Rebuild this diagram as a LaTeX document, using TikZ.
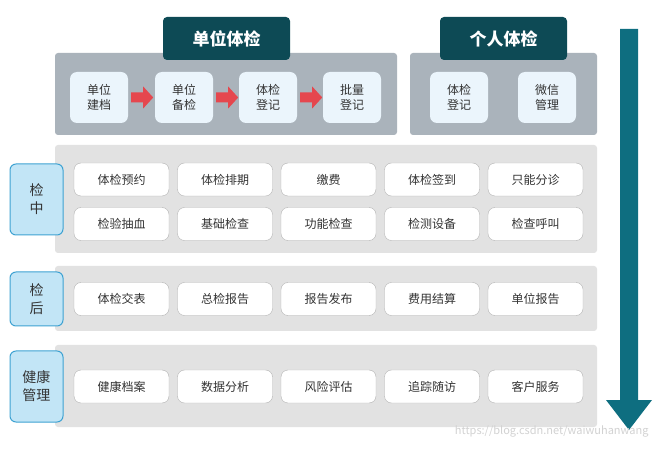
\documentclass[tikz,border=0pt]{standalone}
\usepackage{fontspec}
\setmainfont{Noto Sans CJK SC}
\usetikzlibrary{calc}
\begin{document}
\begin{tikzpicture}[x=1pt,y=-1pt,
  title/.style={fill=titlec,rounded corners=4pt,text=white,font=\bfseries\fontsize{17}{19}\selectfont},
  panel/.style={fill=panelc,rounded corners=3pt},
  lpanel/.style={fill=lpanelc,rounded corners=3pt},
  small/.style={fill=smallc,rounded corners=7pt,align=center,font=\fontsize{12}{15}\selectfont,text=darkt},
  item/.style={fill=white,draw=gray!60,rounded corners=7pt,font=\fontsize{12}{14}\selectfont,text=darkt},
  lab/.style={fill=labc,draw=labd,line width=1pt,rounded corners=6pt,align=center,font=\fontsize{14}{18}\selectfont,text=darkt},
  rarr/.style={fill=redc}]
\definecolor{titlec}{HTML}{0D4A55}
\definecolor{panelc}{HTML}{AAB3BB}
\definecolor{lpanelc}{HTML}{E2E2E2}
\definecolor{smallc}{HTML}{EBF5FC}
\definecolor{labc}{HTML}{C2E5F6}
\definecolor{labd}{HTML}{3EA2D2}
\definecolor{redc}{HTML}{E5474E}
\definecolor{arrc}{HTML}{0E6E80}
\definecolor{darkt}{HTML}{333333}
\useasboundingbox (0,0) rectangle (662,449);
\fill[white] (0,0) rectangle (662,449);
% top panels
\path[panel] (55,53) rectangle (397,135);
\path[panel] (410,53) rectangle (597,135);
\node[title,minimum width=127pt,minimum height=43pt] (t1) at (226.5,38.5) {单位体检};
\node[title,minimum width=127pt,minimum height=43pt] (t2) at (503.5,38.5) {个人体检};
\foreach \n/\x/\t in {a/99/{单位\\建档},b/184/{单位\\备检},c/268/{体检\\登记},d/352/{批量\\登记},e/459/{体检\\登记},f/547/{微信\\管理}}
  \node[small,minimum width=58pt,minimum height=51pt] (\n) at (\x,97.5) {\t};
\foreach \s/\e in {a/b,b/c,c/d}
  \path[rarr] ($(\s.east)+(3,-5)$) -- ++(12,0) -- ++(0,-6) -- ++(10,11) -- ++(-10,11) -- ++(0,-6) -- ++(-12,0) -- cycle;
% lower panels
\path[lpanel] (55,145) rectangle (597,253);
\path[lpanel] (55,266) rectangle (597,331);
\path[lpanel] (55,345) rectangle (597,427);
\node[lab,minimum width=53pt,minimum height=71pt] (l1) at (36.5,199.5) {检\\中};
\node[lab,minimum width=53pt,minimum height=54pt] (l2) at (36.5,299) {检\\后};
\node[lab,minimum width=53pt,minimum height=71pt] (l3) at (36.5,386.5) {健康\\管理};
\foreach \t [count=\i] in {体检预约,体检排期,缴费,体检签到,只能分诊}
  \node[item,minimum width=95pt,minimum height=33pt] (r1\i) at (121.5+103.5*\i-103.5,179.5) {\t};
\foreach \t [count=\i] in {检验抽血,基础检查,功能检查,检测设备,检查呼叫}
  \node[item,minimum width=95pt,minimum height=33pt] (r2\i) at (121.5+103.5*\i-103.5,224) {\t};
\foreach \t [count=\i] in {体检交表,总检报告,报告发布,费用结算,单位报告}
  \node[item,minimum width=95pt,minimum height=33pt] (r3\i) at (121.5+103.5*\i-103.5,299) {\t};
\foreach \t [count=\i] in {健康档案,数据分析,风险评估,追踪随访,客户服务}
  \node[item,minimum width=95pt,minimum height=33pt] (r4\i) at (121.5+103.5*\i-103.5,386.5) {\t};
% big arrow
\fill[arrc] (620,29) -- (638,29) -- (638,400) -- (652,400) -- (629,430) -- (606,400) -- (620,400) -- cycle;
\node[text=gray!35,font=\fontsize{11}{12}\selectfont,anchor=east] (wm) at (652,431) {https://blog.csdn.net/waiwuhanwang};
\end{tikzpicture}
\end{document}
